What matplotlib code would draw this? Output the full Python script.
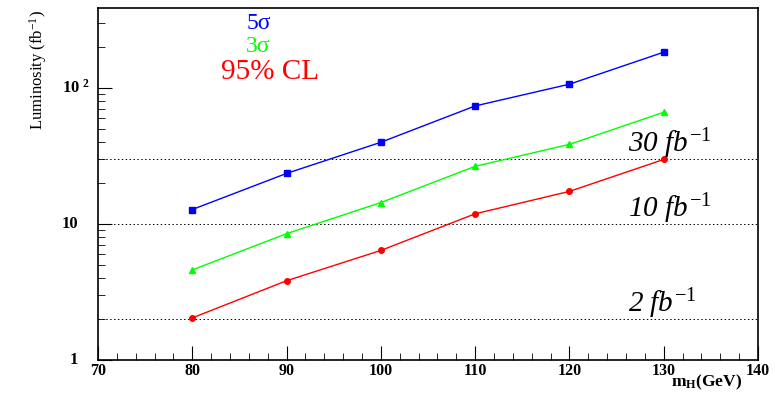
import matplotlib
matplotlib.use('Agg')
import matplotlib.pyplot as plt
import matplotlib.ticker as tck
import matplotlib.transforms as mtransforms

plt.rcParams['font.family'] = ['Liberation Serif', 'DejaVu Serif']
plt.rcParams['mathtext.fontset'] = 'custom'
plt.rcParams['mathtext.rm'] = 'Liberation Serif'
plt.rcParams['mathtext.it'] = 'Liberation Serif:italic'
plt.rcParams['mathtext.bf'] = 'Liberation Serif:bold'

# --- Higgs mass points (GeV) ---
m_higgs = [80, 90, 100, 110, 120, 130]

# --- Required luminosity (fb^-1) ---
lumi_5sigma = [12.8, 23.6, 40, 74, 107, 184]
lumi_3sigma = [4.6, 8.5, 14.4, 26.6, 38.6, 66.5]
lumi_95cl = [2.04, 3.83, 6.4, 11.9, 17.4, 29.9]

# --- Reference luminosities ---
ref_lumi = [2, 10, 30]
ref_labels = ['2 $fb^{-1}$', '10 $fb^{-1}$', '30 $fb^{-1}$']

# --- Y axis labels ---
y_ticks = [1, 10, 100]
y_tick_labels = ['1', '10', r'10 $^{\mathbf{2}}$']

green = '#00ff00'

fig = plt.figure(figsize=(7.81, 3.93), dpi=100)
ax = fig.add_axes([0.1255, 0.084, 0.845, 0.896])

for lumi, lab in zip(ref_lumi, ref_labels):
    ax.axhline(lumi, color='black', linestyle=(0, (1.5, 2.5)), linewidth=0.7)
    ax.text(126.2, lumi * 1.12, lab, ha='left', va='baseline', fontsize=21,
            fontstyle='italic', color='black')

ax.plot(m_higgs, lumi_5sigma, color='blue', marker='s', markersize=4, linewidth=1)
ax.plot(m_higgs, lumi_3sigma, color=green, marker='^', markersize=4, linewidth=1)
ax.plot(m_higgs, lumi_95cl, color='red', marker='o', markersize=4, linewidth=1)

# legend text, stacked
ax.text(0.243, 0.955, '5σ', transform=ax.transAxes, color='blue', fontsize=17, ha='center', va='center')
ax.text(0.243, 0.89, '3σ', transform=ax.transAxes, color=green, fontsize=17, ha='center', va='center')
ax.text(0.26, 0.818, '95% CL', transform=ax.transAxes, color='red', fontsize=21, ha='center', va='center')

ax.set_yscale('log')
ax.set_xlim(70, 140)
ax.set_ylim(1, 390)

ax.xaxis.set_major_locator(tck.MultipleLocator(10))
ax.xaxis.set_minor_locator(tck.MultipleLocator(2))
ax.set_yticks(y_ticks)
ax.set_yticklabels([''] * len(y_ticks))
ax.yaxis.set_minor_locator(tck.LogLocator(subs=range(2, 10)))
ax.yaxis.set_minor_formatter(tck.NullFormatter())

# y tick labels: left edge sits at a fixed offset from the axis
ylab_trans = mtransforms.blended_transform_factory(fig.transFigure, ax.transData)
for yv, lab in zip(y_ticks, y_tick_labels):
    xpos = 62 / 781 if yv > 1 else 70 / 781
    ax.text(xpos, yv, lab, transform=ylab_trans, ha='left', va='center',
            fontsize=12, fontweight='bold')

ax.tick_params(axis='both', which='both', direction='in', top=False, right=False)
ax.tick_params(axis='both', which='major', length=10, labelsize=11.5)
ax.tick_params(axis='both', which='minor', length=5)
ax.tick_params(axis='x', pad=2)
for lab in ax.get_xticklabels():
    lab.set_fontweight('bold')

for side in ['left', 'bottom', 'right', 'top']:
    ax.spines[side].set_linewidth(1.2)

fig.text(742 / 781, 0.5 / 393, r'$\mathbf{m_{H}}$(GeV)', fontsize=12.5, fontweight='bold',
         ha='right', va='bottom')
fig.text(38 / 781, 1 - 10 / 393, r'Luminosity (fb$^{-1}$)', fontsize=12, rotation=90,
         ha='center', va='top')

fig.savefig('out.png', dpi=100)
